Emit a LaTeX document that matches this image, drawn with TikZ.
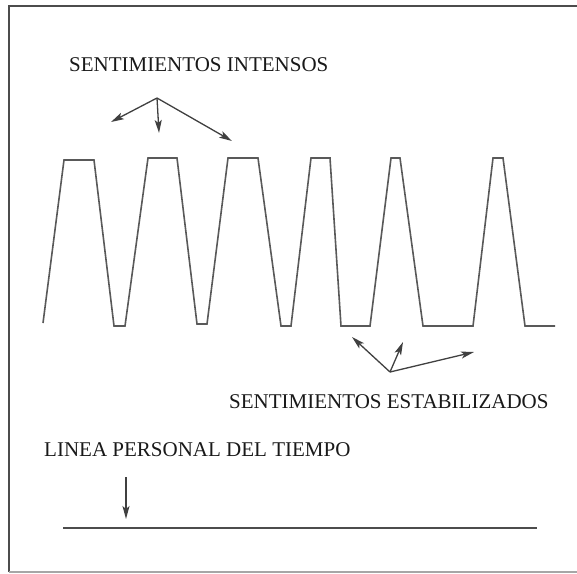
\documentclass[tikz,border=0pt]{standalone}
\usepackage{fontspec}
\setmainfont{Liberation Serif}
\usetikzlibrary{arrows.meta}
\begin{document}
\begin{tikzpicture}[x=1pt,y=-1pt,
  lbl/.style={anchor=base west,inner sep=0pt,font=\fontsize{21}{25}\selectfont,text=black!90},
  arr/.style={draw=black!75,line width=1.3pt,-{Stealth[length=13pt,width=7pt,inset=3pt]}},
  wave/.style={draw=black!65,line width=1.6pt,line join=miter},
  frame/.style={draw=black!70,line width=2.2pt}]
\useasboundingbox (0,0) rectangle (577,573);
% frame
\draw[frame] (9,572) -- (9,6) -- (577,6);
\draw[draw=black!35,line width=1.6pt] (9,572) -- (577,572);
% labels
\node[lbl] (intens) at (69,71) {SENTIMIENTOS INTENSOS};
\node[lbl] (estab) at (229,408) {SENTIMIENTOS ESTABILIZADOS};
\node[lbl] (linea) at (44,456) {LINEA PERSONAL DEL TIEMPO};
% wave
\draw[wave] (43,323) -- (64,160) -- (94,160) -- (114,326) -- (125,326)
  -- (148,158) -- (177,158) -- (197,324) -- (207,324)
  -- (228,158) -- (258,158) -- (281,326) -- (291,326)
  -- (311,158) -- (330,158) -- (341,326) -- (370,326)
  -- (391,158) -- (400,158) -- (423,326) -- (473,326)
  -- (493,158) -- (503,158) -- (525,326) -- (555,326);
% upper arrows
\coordinate (u0) at (157,98);
\coordinate (u1) at (111,122);
\coordinate (u2) at (159,133);
\coordinate (u3) at (232,141);
\draw[arr] (u0) -- (u1);
\draw[arr] (u0) -- (u2);
\draw[arr] (u0) -- (u3);
% lower arrows
\coordinate (l0) at (390,372);
\coordinate (l1) at (352,337);
\coordinate (l2) at (403,342);
\coordinate (l3) at (474,352);
\draw[arr] (l0) -- (l1);
\draw[arr] (l0) -- (l2);
\draw[arr] (l0) -- (l3);
% timeline
\coordinate (ta) at (126,477);
\coordinate (tb) at (126,519);
\draw[arr] (ta) -- (tb);
\coordinate (t0) at (63,528);
\coordinate (t1) at (537,528);
\draw[draw=black!70,line width=2.2pt] (t0) -- (t1);
\end{tikzpicture}
\end{document}
